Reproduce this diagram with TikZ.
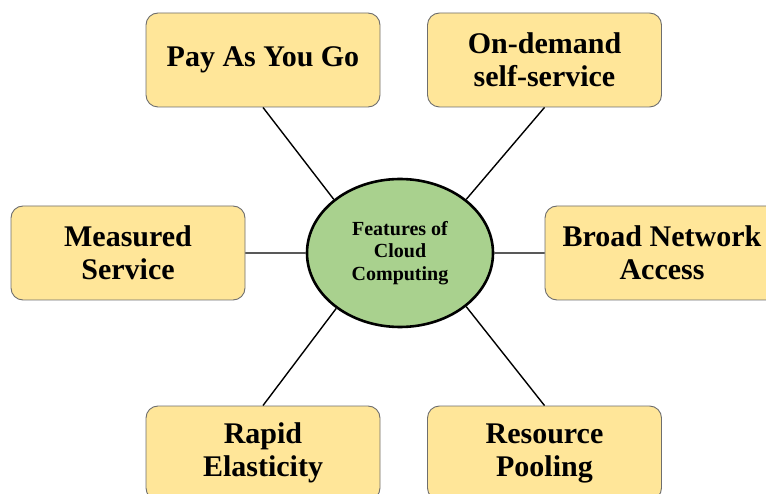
\documentclass[tikz,border=0pt]{standalone}
\usepackage{fontspec}
\setmainfont{Liberation Serif}
\usepackage{tikz}

\definecolor{featfill}{HTML}{FFE699}
\definecolor{featedge}{HTML}{6E6E6E}
\definecolor{hubfill}{HTML}{A9D18E}

\tikzset{
  feature/.style={draw=featedge, line width=0.9pt, fill=featfill, rounded corners=12pt,
    minimum width=234pt, minimum height=94pt, align=center,
    font=\bfseries\fontsize{30}{33}\selectfont},
  hub/.style={ellipse, draw=black, line width=2.6pt, fill=hubfill,
    minimum width=186pt, minimum height=148pt, inner sep=0pt, align=center,
    font=\bfseries\fontsize{20}{22.5}\selectfont},
  spoke/.style={line width=1.4pt}
}

\usetikzlibrary{shapes.geometric}

\begin{document}
\begin{tikzpicture}[x=1pt,y=-1pt]
      \useasboundingbox (0,0) rectangle (766,494);
      \node[hub] (hub) at (400,253) {Features of\\Cloud\\Computing};
      \node[feature] (payg) at (263,60) {Pay As You Go};
      \node[feature] (ondemand) at (544.5,60) {On-demand\\self-service};
      \node[feature] (measured) at (128,253) {Measured\\Service};
      \node[feature] (broad) at (662,253) {Broad Network\\Access};
      \node[feature] (rapid) at (263,453) {Rapid\\Elasticity};
      \node[feature] (pooling) at (544.5,453) {Resource\\Pooling};
      % spokes out of the hub
      \draw[spoke] (hub.141) -- (payg.south)
      (hub.39) -- (ondemand.south)
      (hub.west) -- (measured.east)
      (hub.east) -- (broad.west)
      (hub.221) -- (rapid.north)
      (hub.-39) -- (pooling.north);
    \end{tikzpicture}
\end{document}
